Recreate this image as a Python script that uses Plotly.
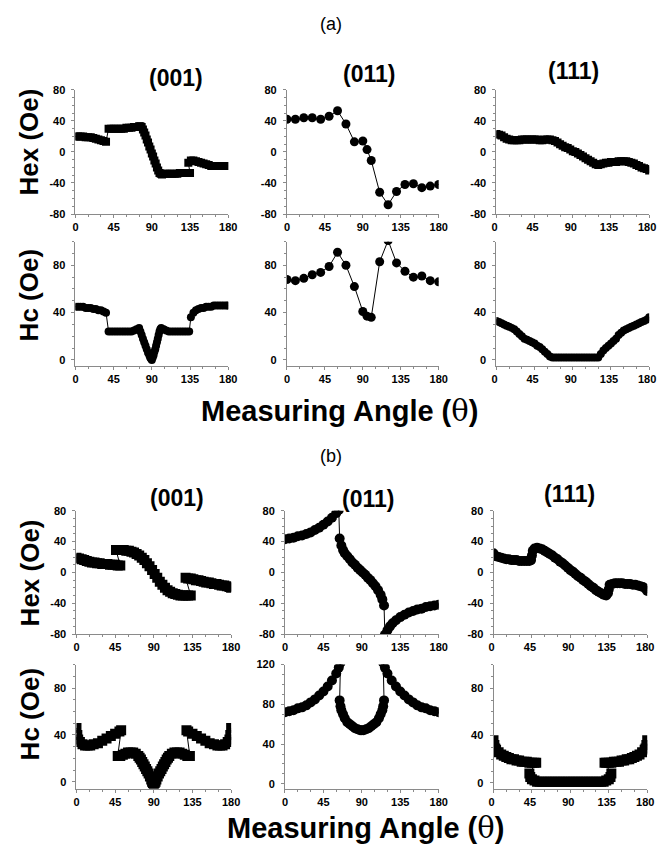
import plotly.graph_objects as go

# ---------------- data ----------------
ticks_x = [0, 45, 90, 135, 180]
hex_ticks = [-80, -40, 0, 40, 80]
hc_ticks = [0, 40, 80]
hc_ticks_120 = [0, 40, 80, 120]

panel_titles = ["(001)", "(011)", "(111)"]

# (a) Hex (001)
a_hex001_x = [0, 3, 6, 9, 12, 15, 18, 21, 24, 27, 30, 33, 36,
              39, 42, 45, 48, 51, 54, 57, 60, 63, 66, 69, 72, 75,
              76.5, 78, 79.5, 81, 82.5, 84, 85.5, 87, 88.5, 90, 91.5, 93, 94.5, 96, 97.5, 99, 100.5, 102,
              105, 108, 111, 114, 117, 120, 123, 126, 129, 132, 135,
              133, 136, 139, 142, 145, 148, 151, 154, 157, 160, 163, 166, 169, 172, 175, 178, 180]
a_hex001_y = [20, 20, 20, 20, 19, 19, 19, 18, 17, 16, 15, 14, 13,
              30, 30, 30, 30, 30, 30, 30, 31, 31, 31, 32, 32, 33,
              33, 32, 29, 25, 21, 16, 12, 7, 3, -2, -6, -11, -15, -20, -24, -27, -28, -29,
              -28, -28, -28, -28, -28, -28, -27, -27, -27, -27, -27,
              -14, -11, -11, -12, -13, -14, -15, -16, -17, -18, -18, -18, -18, -18, -18, -18, -18]

# (a) Hex (011)
a_hex011_x = [0, 10, 20, 30, 40, 50, 60, 70, 80, 90, 95, 100, 110, 120, 130, 140, 150, 160, 170, 180]
a_hex011_y = [42, 42, 44, 44, 42, 46, 53, 36, 13, 14, 3, -11, -52, -68, -51, -42, -41, -46, -44, -42]

# (a) Hex (111)
a_hex111_x = [0, 3, 6, 9, 12, 15, 18, 21, 24, 27, 30, 33, 36, 39, 42, 45, 48, 51, 54, 57, 60,
              63, 66, 69, 72, 75, 78, 81, 84, 87, 90, 93, 96, 99, 102, 105, 108, 111, 114, 117, 120,
              123, 126, 129, 132, 135, 138, 141, 144, 147, 150, 153, 156, 159, 162, 165, 168, 171, 174, 177, 180]
a_hex111_y = [23, 22, 21, 19, 17, 16, 15, 15, 15, 15, 16, 16, 16, 16, 16, 16, 16, 15, 15, 16, 16,
              16, 15, 14, 12, 10, 8, 6, 5, 3, 1, 0, -2, -4, -6, -8, -10, -12, -14, -16, -17,
              -16, -15, -14, -14, -13, -13, -13, -12, -12, -12, -12, -13, -14, -15, -17, -18, -20, -21, -22, -24]

# (a) Hc (001)
a_hc001_x = [0, 3, 6, 9, 12, 15, 18, 21, 24, 27, 30, 33, 36,
             39, 42, 45, 48, 51, 54, 57, 60, 63, 66, 69, 72, 75,
             76.5, 78, 79.5, 81, 82.5, 84, 85.5, 87, 88, 89, 90, 91, 92, 93, 94, 95, 96, 97, 98, 99, 100, 101,
             104, 107, 110, 113, 116, 119, 122, 125, 128, 131, 134,
             136, 139, 142, 145, 148, 151, 154, 157, 160, 163, 166, 169, 172, 175, 178, 180]
a_hc001_y = [45, 45, 45, 45, 44, 44, 44, 43, 43, 42, 42, 41, 40,
             24, 24, 24, 24, 24, 24, 24, 24, 24, 24, 25, 26, 27,
             24, 21, 18, 15, 12, 9, 6, 4, 2, 1, 0, 2, 4, 7, 9, 12, 15, 18, 21, 24, 26, 27,
             26, 25, 24, 24, 24, 24, 24, 24, 24, 24, 24,
             36, 40, 42, 43, 44, 44, 45, 45, 45, 46, 46, 46, 46, 46, 46, 46]

# (a) Hc (011)
a_hc011_x = [0, 10, 20, 30, 40, 50, 60, 70, 80, 90, 95, 100, 110, 120, 130, 140, 150, 160, 170, 180]
a_hc011_y = [68, 67, 69, 72, 74, 79, 91, 80, 62, 41, 37, 36, 83, 101, 82, 75, 70, 71, 67, 66]

# (a) Hc (111)
a_hc111_x = [0, 3, 6, 9, 12, 15, 18, 21, 24, 27, 30, 33, 36, 39, 42, 45, 48, 51, 54, 57, 60,
             63, 66, 69, 72, 75, 78, 81, 84, 87, 90, 93, 96, 99, 102, 105, 108, 111, 114, 117, 120,
             123, 126, 129, 132, 135, 138, 141, 144, 147, 150, 153, 156, 159, 162, 165, 168, 171, 174, 177, 180]
a_hc111_y = [33, 32, 31, 30, 29, 28, 27, 26, 24, 22, 20, 18, 17, 16, 15, 14, 12, 11, 9, 7, 5,
             3, 2, 2, 2, 2, 2, 2, 2, 2, 2, 2, 2, 2, 2, 2, 2, 2, 2, 2, 2,
             5, 8, 10, 12, 14, 16, 18, 21, 23, 25, 26, 27, 28, 29, 30, 31, 32, 33, 34, 36]

# (b) Hex (001)
b_hex001_x = [0, 3, 6, 9, 12, 15, 18, 21, 24, 27, 30, 33, 36, 39, 42, 45, 48, 51,
              46, 49, 52, 55, 58, 61, 64, 67, 70, 73, 76, 79, 82, 85, 88, 91, 94, 97, 100, 103,
              106, 109, 112, 115, 118, 121, 124, 127, 130, 133,
              127, 130, 133, 136, 139, 142, 145, 148, 151, 154, 157, 160, 163, 166, 169, 172, 175, 178, 180]
b_hex001_y = [19, 18, 17, 16, 15, 14, 13, 13, 12, 12, 11, 11, 11, 10, 10, 10, 9, 9,
              29, 29, 29, 29, 28, 28, 27, 26, 24, 22, 19, 16, 12, 8, 3, -2, -7, -12, -16, -20,
              -23, -25, -27, -28, -29, -30, -30, -30, -30, -30,
              -7, -8, -8, -9, -10, -10, -11, -12, -13, -13, -14, -15, -15, -16, -17, -17, -18, -19, -20]

# (b) Hex (011)
b_hex011_x = [0, 5, 10, 15, 20, 25, 30, 35, 40, 45, 50, 55, 60, 63,
              64, 66, 68, 70, 73, 76, 79, 82, 85, 88, 91, 94, 97, 100, 103, 106, 109, 112, 114, 116,
              117, 120, 123, 126, 130, 135, 140, 145, 150, 155, 160, 165, 170, 175, 180]
b_hex011_y = [43, 44, 45, 47, 48, 50, 52, 55, 58, 62, 66, 71, 77, 81,
              44, 35, 29, 25, 21, 17, 13, 10, 6, 3, 0, -3, -7, -10, -14, -18, -23, -29, -35, -43,
              -81, -75, -70, -66, -62, -58, -55, -52, -50, -48, -47, -45, -44, -43, -42]

# (b) Hex (111)
b_hex111_x = [0, 3, 6, 9, 12, 15, 18, 21, 24, 27, 30, 33, 36, 39, 42, 44,
              45, 46, 48, 51, 54, 57, 60, 63, 66, 69, 72, 75, 78, 81, 84, 87, 90, 93, 96, 99,
              102, 105, 108, 111, 114, 117, 120, 123, 126, 129, 132, 134, 135,
              136, 139, 142, 145, 148, 151, 154, 157, 160, 163, 166, 169, 172, 175, 178, 180]
b_hex111_y = [25, 21, 20, 19, 18, 17, 17, 16, 16, 16, 15, 15, 15, 15, 15, 16,
              22, 28, 31, 32, 31, 30, 28, 26, 24, 22, 19, 17, 14, 12, 9, 6, 3, 1, -2, -5,
              -7, -10, -12, -15, -18, -20, -23, -25, -27, -29, -30, -27, -22,
              -16, -15, -14, -14, -14, -14, -15, -15, -15, -16, -16, -17, -18, -19, -21, -24]

# (b) Hc (001)
b_hc001_x = [0, 1, 2, 4, 7, 10, 13, 16, 20, 25, 30, 35, 40, 45, 50, 52,
             48, 51, 54, 57, 60, 63, 66, 69, 72, 73.5, 75, 76.5, 78, 79.5, 81, 82.5, 84, 85.5, 87, 88, 89,
             90, 91, 92, 93, 94.5, 96, 97.5, 99, 100.5, 102, 103.5, 105, 106.5, 108,
             111, 114, 117, 120, 123, 126, 129, 132,
             128, 130, 135, 140, 145, 150, 155, 160, 164, 167, 170, 173, 176, 178, 179, 180]
b_hc001_y = [46, 40, 36, 34, 32, 31, 31, 31, 32, 33, 35, 37, 39, 41, 43, 44,
             22, 22, 23, 24, 25, 25, 25, 24, 22, 20.5, 19, 17, 15, 13, 11, 9, 7, 4.5, 2, 0, -1,
             -2, -1, 0, 2, 4.5, 7, 9, 11, 13, 15, 17, 19, 20.5, 22,
             24, 25, 25, 25, 24, 23, 22, 22,
             44, 43, 41, 39, 37, 35, 33, 32, 31, 31, 31, 32, 34, 36, 40, 46]

# (b) Hc (011)
b_hc011_x = [0, 5, 10, 15, 20, 25, 30, 35, 40, 45, 50, 55, 60, 63, 65,
             64, 65, 66, 68, 70, 73, 76, 79, 82, 85, 88, 90, 92, 95, 98, 101, 104, 107, 110, 112, 114, 115, 116,
             115, 117, 120, 125, 130, 135, 140, 145, 150, 155, 160, 165, 170, 175, 180]
b_hc011_y = [72, 73, 74, 76, 77, 79, 82, 85, 89, 93, 98, 104, 111, 117, 122,
             84, 78, 74, 70, 66, 62, 60, 58, 56, 55, 54, 54, 54, 55, 56, 58, 60, 62, 66, 70, 74, 78, 84,
             122, 117, 111, 104, 98, 93, 89, 85, 82, 79, 77, 76, 74, 73, 72]

# (b) Hc (111)
b_hc111_x = [0, 1, 2, 3, 6, 9, 12, 15, 18, 21, 24, 27, 30, 33, 36, 39, 42, 45, 48, 50,
             42, 43, 45, 48, 51, 54, 57, 60, 63, 66, 69, 72, 75, 78, 81, 84, 87, 90, 93, 96, 99,
             102, 105, 108, 111, 114, 117, 120, 123, 126, 129, 132, 135, 137, 138,
             130, 132, 135, 138, 141, 144, 147, 150, 153, 156, 159, 162, 165, 168, 171, 174, 177, 178, 179, 180]
b_hc111_y = [36, 32, 29, 28, 26, 24, 23, 22, 21, 20, 20, 19, 19, 18, 18, 18, 17, 17, 17, 17,
             8, 5, 3, 2, 1, 1, 1, 1, 1, 1, 1, 1, 1, 1, 1, 1, 1, 1, 1, 1, 1,
             1, 1, 1, 1, 1, 1, 1, 1, 1, 1, 2, 3, 5, 8,
             17, 17, 17, 17, 18, 18, 18, 19, 19, 20, 20, 21, 22, 23, 24, 26, 28, 29, 32, 36]

# ---------------- figure ----------------
W, H = 666, 854
series = [
    (a_hex001_x, a_hex001_y, "square", 8),
    (a_hex011_x, a_hex011_y, "circle", 9),
    (a_hex111_x, a_hex111_y, "square", 8),
    (a_hc001_x, a_hc001_y, "circle", 8),
    (a_hc011_x, a_hc011_y, "circle", 9),
    (a_hc111_x, a_hc111_y, "circle", 8),
    (b_hex001_x, b_hex001_y, "square", 10),
    (b_hex011_x, b_hex011_y, "circle", 10),
    (b_hex111_x, b_hex111_y, "circle", 10),
    (b_hc001_x, b_hc001_y, "square", 10),
    (b_hc011_x, b_hc011_y, "circle", 10),
    (b_hc111_x, b_hc111_y, "square", 10),
]
# pixel boxes: (left, right) per column, (top, bottom) per row
cols_a = [(72, 228), (288, 443), (502, 658)]
cols_b = [(73, 231), (286, 443), (499, 656)]
rows = [(85, 211), (239, 365), (512, 637), (668, 794)]
yranges = [[-80, 80]] * 3 + [[-5, 100]] * 3 + [[-80, 80]] * 3 + [[-6, 100], [-5, 120], [-5, 100]]
ytickv = [hex_ticks] * 3 + [hc_ticks] * 3 + [hex_ticks] * 3 + [hc_ticks, hc_ticks_120, hc_ticks]

fig = go.Figure()
tickfont = dict(family="Liberation Sans Narrow, Arial Narrow, Liberation Sans, Arial", size=11,
                color="black", weight=700)
layout = dict(width=W, height=H, margin=dict(l=0, r=0, t=0, b=0),
              paper_bgcolor="white", plot_bgcolor="white", showlegend=False)

for i, (x, y, sym, size) in enumerate(series):
    r = i // 3
    c = i % 3
    left, right = (cols_a if r < 2 else cols_b)[c]
    top, bot = rows[r]
    sx = "" if i == 0 else str(i + 1)
    fig.add_trace(go.Scatter(
        x=x, y=y, mode="lines+markers",
        marker=dict(symbol=sym, size=size, color="black", line=dict(width=0)),
        line=dict(color="black", width=1),
        xaxis="x" + sx, yaxis="y" + sx, hoverinfo="skip"))
    layout["xaxis" + sx] = dict(
        domain=[left / W, right / W], anchor="y" + sx, range=[0, 180],
        tickmode="array", tickvals=ticks_x, ticktext=[str(t) for t in ticks_x],
        showline=True, linecolor="#8a8a8a", linewidth=1, ticks="outside", ticklen=3,
        tickcolor="#8a8a8a", showgrid=False, zeroline=False, tickfont=tickfont,
        ticklabelshift=-2 if c == 2 else 0,
        minor=dict(ticks="outside", dtick=15, ticklen=2, tickcolor="#8a8a8a", showgrid=False),
        fixedrange=True)
    layout["yaxis" + sx] = dict(
        domain=[1 - bot / H, 1 - top / H], anchor="x" + sx, range=yranges[i],
        tickmode="array", tickvals=ytickv[i], ticktext=[str(t) for t in ytickv[i]],
        showline=True, linecolor="#8a8a8a", linewidth=1, ticks="outside", ticklen=3,
        tickcolor="#8a8a8a", showgrid=False, zeroline=False, tickfont=tickfont,
        ticklabelstandoff=4,
        minor=dict(ticks="outside", dtick=10, ticklen=2, tickcolor="#8a8a8a", showgrid=False),
        fixedrange=True)

fig.update_layout(**layout)

ann = []
def add_text(text, px, py, size, weight=700, angle=0, family="Liberation Sans, Arial"):
    ann.append(dict(text=text, x=px / W, y=1 - py / H, xref="paper", yref="paper",
                    showarrow=False, xanchor="center", yanchor="middle", textangle=angle,
                    font=dict(family=family, size=size, color="black", weight=weight)))

add_text("(a)", 333, 18, 18, weight=400)
add_text("(b)", 333, 456, 18, weight=400)
for t, (px, py) in zip(panel_titles, [(175, 73), (372, 69), (581, 66)]):
    add_text(t, px, py, 23)
for t, (px, py) in zip(panel_titles, [(176, 499), (371, 500), (577, 495)]):
    add_text(t, px, py, 23)
add_text("Hex (Oe)", 25, 138, 26, angle=-90)
add_text("Hc (Oe)", 24, 293, 26, angle=-90)
add_text("Hex (Oe)", 25, 575, 26, angle=-90)
add_text("Hc (Oe)", 25, 718, 26, angle=-90)
xtitle = "Measuring Angle (<span style='font-weight:normal;font-family:DejaVu Serif'>θ</span>)"
add_text(xtitle, 342, 411, 29)
add_text(xtitle, 368, 834, 29)
fig.update_layout(annotations=ann)

fig.write_html("out.html", config={"displayModeBar": False, "staticPlot": True},
               post_script="document.body.style.margin='0';document.body.style.padding='0';")
